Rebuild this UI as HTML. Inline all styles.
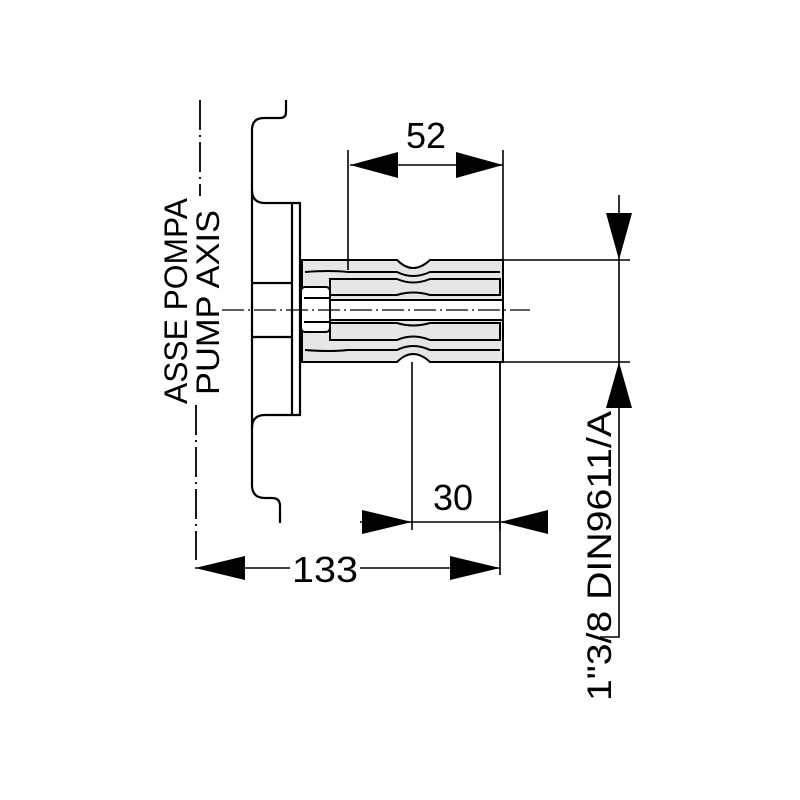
<!DOCTYPE html>
<html><head><style>html,body{margin:0;background:#fff}svg{display:block}</style></head><body>
<svg width="800" height="800" viewBox="0 0 800 800" xmlns="http://www.w3.org/2000/svg" font-family="Liberation Sans, sans-serif">
<rect width="800" height="800" fill="#fff"/>
<g fill="none" stroke="#000" stroke-width="2.2">
<path d="M286 100 V112 Q286 118 280 118 H264 Q252 118 252 130 V485 Q252 498 265 498 H272 Q280 498 280 506 V523"/>
<path d="M252 190 Q252 203 265 203 H300 V415 H265 Q252 415 252 428"/>
<line x1="292" y1="203" x2="292" y2="415"/>
<line x1="252" y1="283" x2="292" y2="283"/>
<line x1="252" y1="337" x2="292" y2="337"/>
</g>
<g stroke="#000" stroke-width="2">
<path d="M302 260 H397 Q413 276 430 260 H503 V362 H430 Q413 346 397 362 H302 Z" fill="#e6e6e6"/>
<path d="M305 272 Q330 270 348 272 H397 Q413 280 430 272 H500" fill="none"/>
<path d="M305 350 Q330 352 348 350 H397 Q413 342 430 350 H500" fill="none"/>
<path d="M330 279 H397 Q413 286 430 279 H500 V295 H430 Q413 290 397 295 H330 Z" fill="#e6e6e6"/>
<path d="M330 323 H397 Q413 328 430 323 H500 V340 H430 Q413 333 397 340 H330 Z" fill="#e6e6e6"/>
<rect x="330" y="300" width="173" height="20" fill="#fff"/>
<rect x="301" y="287" width="29" height="45" rx="4" fill="#fff"/>
<line x1="304" y1="298" x2="330" y2="298"/>
<line x1="304" y1="322" x2="330" y2="322"/>
</g>
<line x1="222" y1="310" x2="530" y2="310" stroke="#000" stroke-width="1.2" stroke-dasharray="22 4 2 4"/>
<g stroke="#000" stroke-width="1.8" stroke-dasharray="30 5 2 5">
<line x1="200" y1="100" x2="200" y2="196"/>
<line x1="196" y1="405" x2="196" y2="560"/>
</g>
<text transform="translate(187,404) rotate(-90)" font-size="32" textLength="206" lengthAdjust="spacingAndGlyphs">ASSE POMPA</text>
<text transform="translate(219,395) rotate(-90)" font-size="32" textLength="185" lengthAdjust="spacingAndGlyphs">PUMP AXIS</text>
<g stroke="#000" stroke-width="1.6" fill="none">
<line x1="348" y1="150" x2="348" y2="270"/>
<line x1="503" y1="150" x2="503" y2="260"/>
<line x1="350" y1="165" x2="503" y2="165"/>
<line x1="412" y1="362" x2="412" y2="530"/>
<line x1="500" y1="362" x2="500" y2="530"/>
<line x1="360" y1="522" x2="548" y2="522"/>
<line x1="195" y1="568" x2="290" y2="568"/>
<line x1="360" y1="568" x2="500" y2="568"/>
<line x1="500" y1="362" x2="500" y2="575"/>
<line x1="503" y1="260" x2="630" y2="260"/>
<line x1="503" y1="362" x2="630" y2="362"/>
<path d="M619 195 V637 H600"/>
</g>
<g fill="#000">
<polygon points="350,165 398,152 398,178"/>
<polygon points="503,165 456,152 456,178"/>
<polygon points="412,522 362,510 362,534"/>
<polygon points="500,522 548,510 548,534"/>
<polygon points="195,568 245,556 245,580"/>
<polygon points="500,568 450,556 450,580"/>
<polygon points="619,260 606,213 632,213"/>
<polygon points="619,362 606,408 632,408"/>
</g>
<g font-size="36">
<text x="406" y="148">52</text>
<text x="433" y="510">30</text>
<text x="292" y="582" textLength="66" lengthAdjust="spacingAndGlyphs">133</text>
</g>
<text transform="translate(611,701) rotate(-90)" font-size="34" textLength="290" lengthAdjust="spacingAndGlyphs">1"3/8 DIN9611/A</text>
</svg>
</body></html>
